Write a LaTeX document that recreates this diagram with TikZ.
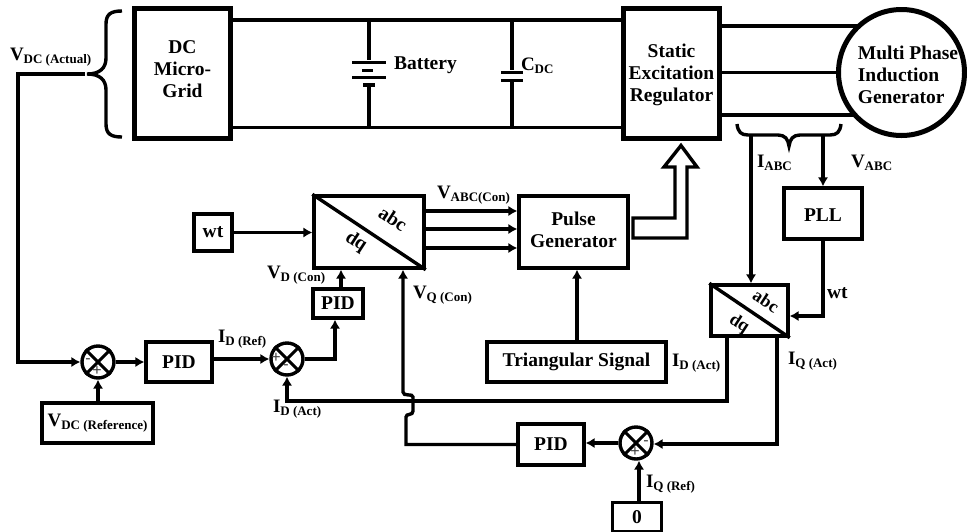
\documentclass[tikz,border=0pt]{standalone}
\usepackage{fontspec}
\setmainfont{Liberation Serif}
\newfontfamily\signfont{Liberation Sans}
\usetikzlibrary{arrows.meta,calc}
\newcommand{\bigtxt}{\fontsize{19.5}{22}\bfseries\selectfont}
\newcommand{\lab}[2]{{\fontsize{19}{22}\bfseries\selectfont #1\raisebox{-3pt}{\fontsize{13}{13}\selectfont #2}}}
\tikzset{
  x=1pt,y=-1pt,
  conn/.style={draw=black,line width=3.4pt,line join=miter},
  arr/.style={conn,-{Latex[length=9pt,width=10.5pt]}},
  thickbox/.style={draw=black,line width=5pt,align=center,inner sep=0pt,font=\bigtxt},
  blockbox/.style={draw=black,line width=3.4pt,align=center,inner sep=0pt,font=\bigtxt},
  sumnode/.style={circle,draw=black,line width=3.4pt,minimum size=32pt,inner sep=0pt},
  lbl/.style={anchor=base west,inner sep=0pt,outer sep=0pt,font=\bigtxt},
  boxtxt/.style={inner sep=0pt,outer sep=0pt,align=center,font=\bigtxt},
  sign/.style={inner sep=0pt,font=\signfont\fontsize{16}{16}\selectfont,text=black!75},
  tr/.style={inner sep=0pt,font=\fontsize{19.5}{20}\bfseries\selectfont,rotate=-33},
  tr2/.style={inner sep=0pt,font=\fontsize{18}{20}\bfseries\selectfont,rotate=-33},
}
\begin{document}
\begin{tikzpicture}
\useasboundingbox (0,0) rectangle (967,531);
\fill[white] (0,0) rectangle (967,531);
% power blocks
\node[thickbox,minimum width=96pt,minimum height=130pt] (mg) at (182.5,73.5) {};
\node[boxtxt] (mgtxt) at (182.5,69.5) {DC\\Micro-\\Grid};
\node[thickbox,minimum width=96pt,minimum height=130pt] (ser) at (671.5,73.5) {};
\node[boxtxt] (sertxt) at (671.5,75) {Static\\Excitation\\Regulator};
\node[circle,draw=black,line width=5pt,minimum size=126pt,inner sep=0pt] (gen) at (901.5,72.5) {};
\node[inner sep=0pt,align=left,font=\bigtxt] (gentxt) at (908,75) {Multi Phase\\Induction\\Generator};
% buses
\coordinate (btop) at (369,20);
\coordinate (bbot) at (369,127.5);
\coordinate (ctop) at (512,20);
\coordinate (cbot) at (512,127.5);
\draw[conn] (mg.east |- btop) -- (ser.west |- btop);
\draw[conn] (mg.east |- bbot) -- (ser.west |- bbot);
% battery
\node[inner sep=0pt,minimum width=34pt,minimum height=3pt,fill=black] (b1) at (369,62) {};
\node[inner sep=0pt,minimum width=11pt,minimum height=3pt,fill=black] (b2) at (367.5,70) {};
\node[inner sep=0pt,minimum width=34pt,minimum height=3pt,fill=black] (b3) at (369,77) {};
\node[inner sep=0pt,minimum width=12pt,minimum height=3.5pt,fill=black] (b4) at (369,85) {};
\draw[conn] (btop) -- (b1.north);
\draw[conn] (b4.south) -- (bbot);
\node[lbl] (battery) at (394,69) {Battery};
% capacitor
\node[inner sep=0pt,minimum width=22pt,minimum height=3pt,fill=black] (c1) at (512,72) {};
\node[inner sep=0pt,minimum width=22pt,minimum height=3pt,fill=black] (c2) at (512,80) {};
\draw[conn] (ctop) -- (c1.north);
\draw[conn] (c2.south) -- (cbot);
\node[lbl] (cdc) at (521,70) {\lab{C}{DC}};
% AC lines
\coordinate (gtop) at (860,26);
\coordinate (gbot) at (856,115);
\draw[conn] (ser.east |- gtop) -- (gtop);
\draw[conn] (ser.east |- gen.west) -- (gen.west);
\draw[conn] (ser.east |- gbot) -- (gbot);
% left brace
\coordinate (bl) at (87,74);
\draw[line width=3.4pt] (122,11) .. controls (111,11) and (106,14) .. (106,24) -- (106,58) .. controls (106,68) and (100,74) .. (bl) .. controls (100,74) and (106,80) .. (106,90) -- (106,124) .. controls (106,134) and (111,137) .. (122,137);
\coordinate (vdcstart) at (85,74);
\coordinate (vdccorner) at (18,74);
% lower brace
\draw[line width=3.4pt] (737,124) .. controls (738,132) and (741,135) .. (748,135) -- (778,135) .. controls (785,135) and (788,139) .. (789,146) .. controls (790,139) and (793,135) .. (800,135) -- (830,135) .. controls (837,135) and (840,132) .. (841,124);
\coordinate (iabc) at (751,135);
\coordinate (vabc) at (823,135);
% control blocks
\node[blockbox,minimum width=78pt,minimum height=51pt] (pll) at (823,213.5) {};
\node[boxtxt] (plltxt) at (823,215) {PLL};
\node[blockbox,minimum width=77pt,minimum height=51pt] (dq2) at (749.5,310.5) {};
\draw[line width=3.4pt] (dq2.north west) -- (dq2.south east);
\node[tr2] (abc2) at (766,301) {abc};
\node[tr2] (dqt2) at (739,324) {dq};
\node[blockbox,minimum width=110pt,minimum height=72pt] (dq1) at (369,232) {};
\draw[line width=3.4pt] (dq1.north west) -- (dq1.south east);
\node[tr] (abc1) at (393,219) {abc};
\node[tr] (dqt1) at (356,242) {dq};
\node[blockbox,minimum width=109pt,minimum height=72pt] (pulse) at (573.5,232) {};
\node[boxtxt] (pulsetxt) at (573.5,230) {Pulse\\Generator};
\node[blockbox,minimum width=179pt,minimum height=40pt] (tri) at (576.5,362) {Triangular Signal};
\node[blockbox,minimum width=38pt,minimum height=37pt] (wt) at (213,232.5) {wt};
\node[blockbox,minimum width=50pt,minimum height=29pt] (pid2) at (338,303.5) {PID};
\node[blockbox,minimum width=66pt,minimum height=40pt] (pid1) at (179,362) {PID};
\node[blockbox,minimum width=66pt,minimum height=41pt] (pid3) at (551,444.5) {PID};
\node[blockbox,minimum width=111pt,minimum height=40pt] (vref) at (97.5,423) {\lab{V}{DC (Reference)}};
\node[blockbox,minimum width=49pt,minimum height=29pt] (zero) at (637,517) {0};
% summing junctions
\node[sumnode] (s1) at (98,362) {};
\node[sumnode] (s2) at (287,359) {};
\node[sumnode] (s3) at (636,443) {};
\foreach \s in {s1,s2,s3}{
  \draw[line width=3pt] (\s.45) -- (\s.225);
  \draw[line width=3pt] (\s.135) -- (\s.315);
}
\node[sign] (s1m) at (88,361) {-};
\node[sign] (s1p) at (97,371) {+};
\node[sign] (s2p) at (276,358) {+};
\node[sign] (s2m) at (286,367) {-};
\node[sign] (s3m) at (646,443) {-};
\node[sign] (s3p) at (635,452) {+};
% connectors
\draw[arr] (wt.east) -- (dq1.west |- wt.east);
\draw[arr] (dq1.east |- 0,211) -- (pulse.west |- 0,211);
\draw[arr] (dq1.east |- 0,229) -- (pulse.west |- 0,229);
\draw[arr] (dq1.east |- 0,248) -- (pulse.west |- 0,248);
\draw[arr] (tri.north -| 577,0) -- (pulse.south -| 577,0);
\draw[arr] (pid2.north -| 341,0) -- (dq1.south -| 341,0);
\draw[arr] (vdcstart) -- (vdccorner) -- (vdccorner |- s1.west) -- (s1.west);
\draw[arr] (s1.east) -- (pid1.west |- s1.east);
\draw[arr] (vref.north -| s1.south) -- (s1.south);
\draw[arr] (pid1.east |- s2.west) -- (s2.west);
\draw[arr] (s2.east) -- (335,359) -- (pid2.south -| 335,0);
\draw[arr] (iabc) -- (dq2.north -| iabc);
\draw[arr] (vabc) -- (pll.north -| vabc);
\draw[arr] (pll.south) -- (823,316) -- (dq2.east |- 0,316);
\draw[arr] (dq2.south -| 727,0) -- (727,401) -- (s2.south |- 0,401) -- (s2.south);
\draw[arr] (dq2.south -| 777,0) -- (777,444) -- (s3.east |- 0,444);
\draw[arr] (s3.west) -- (pid3.east |- s3.west);
\draw[arr] (zero.north -| 639,0) -- (s3.south -| 639,0);
\coordinate (jumpa) at (406,417);
\coordinate (jumpb) at (413,397);
\draw[arr] (pid3.west) -- (pid3.west -| jumpa) -- (jumpa) .. controls (406,413) and (413,416) .. (413,411) -- (jumpb) .. controls (413,393) and (403,397) .. (403,392) -- (dq1.south -| 403,0);
% hollow arrow
\coordinate (hstart) at (633,218);
\coordinate (hend) at (633,238);
\coordinate (htip) at (681,145.5);
\draw[conn,line join=miter] (hstart) -- (675,218) -- (675,167) -- (664,167) -- (htip) -- (697,167) -- (687,167) -- (687,238) -- (hend) -- cycle;
% labels
\node[lbl] (l1) at (10,60) {\lab{V}{DC (Actual)}};
\node[lbl] (l2) at (437,198) {\lab{V}{ABC(Con)}};
\node[lbl] (l3) at (267,278) {\lab{V}{D (Con)}};
\node[lbl] (l4) at (413,298) {\lab{V}{Q (Con)}};
\node[lbl] (l5) at (218,342) {\lab{I}{D (Ref)}};
\node[lbl] (l6) at (273,412) {\lab{I}{D (Act)}};
\node[lbl] (l7) at (672,366) {\lab{I}{D (Act)}};
\node[lbl] (l8) at (788,364) {\lab{I}{Q (Act)}};
\node[lbl] (l9) at (646,487) {\lab{I}{Q (Ref)}};
\node[lbl] (l10) at (757,167) {\lab{I}{ABC}};
\node[lbl] (l11) at (851,167) {\lab{V}{ABC}};
\node[lbl] (l12) at (827,298) {wt};
\end{tikzpicture}
\end{document}
